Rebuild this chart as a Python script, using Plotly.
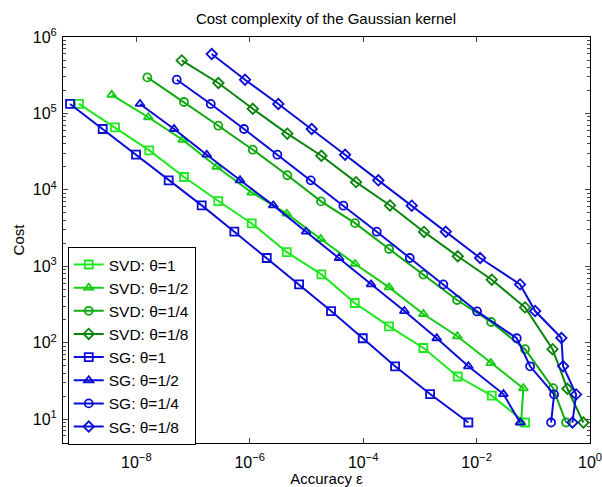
import plotly.graph_objects as go

# ---- data (accuracy epsilon, cost) ----
svd1_x = [10**-9.011, 10**-8.376, 10**-7.771, 10**-7.159, 10**-6.554, 10**-5.965, 10**-5.347, 10**-4.737, 10**-4.148, 10**-3.543, 10**-2.938, 10**-2.332, 10**-1.732, 10**-1.145]
svd1_y = [1.33e5, 6.56e4, 3.28e4, 1.47e4, 7.13e3, 3.63e3, 1.53e3, 782, 330, 163, 85, 36, 20.2, 9]

svd2_x = [10**-8.434, 10**-7.788, 10**-7.182, 10**-6.582, 10**-5.965, 10**-5.347, 10**-4.748, 10**-4.143, 10**-3.543, 10**-2.938, 10**-2.339, 10**-1.750, 10**-1.175, 10**-1.215]
svd2_y = [1.75e5, 8.9e4, 4.5e4, 2.0e4, 9.2e3, 4.87e3, 2.27e3, 1.07e3, 528, 237, 121, 54, 25.2, 9]

svd4_x = [10**-7.806, 10**-7.159, 10**-6.554, 10**-5.947, 10**-5.337, 10**-4.743, 10**-4.143, 10**-3.543, 10**-2.938, 10**-2.344, 10**-1.744, 10**-1.145, 10**-0.651, 10**-0.422]
svd4_y = [2.96e5, 1.41e5, 6.9e4, 3.35e4, 1.55e4, 7.05e3, 3.66e3, 1.68e3, 778, 361, 186, 82, 25.3, 9]

svd8_x = [10**-7.199, 10**-6.554, 10**-5.947, 10**-5.337, 10**-4.737, 10**-4.125, 10**-3.526, 10**-2.926, 10**-2.332, 10**-1.732, 10**-1.145, 10**-0.660, 10**-0.399, 10**-0.116]
svd8_y = [4.94e5, 2.5e5, 1.15e5, 5.43e4, 2.79e4, 1.26e4, 6.24e3, 2.81e3, 1.35e3, 666, 289, 82, 24.9, 9]

sg1_x = [10**-9.169, 10**-8.593, 10**-8.005, 10**-7.429, 10**-6.847, 10**-6.272, 10**-5.700, 10**-5.130, 10**-4.566, 10**-4.007, 10**-3.437, 10**-2.820, 10**-2.145]
sg1_y = [1.33e5, 6.25e4, 2.88e4, 1.33e4, 6.25e3, 2.83e3, 1.28e3, 578, 259, 114, 49, 21.2, 9]

sg2_x = [10**-7.935, 10**-7.335, 10**-6.758, 10**-6.171, 10**-5.584, 10**-5.007, 10**-4.425, 10**-3.861, 10**-3.273, 10**-2.702, 10**-2.145, 10**-1.527, 10**-1.233]
sg2_y = [1.33e5, 6.25e4, 2.88e4, 1.33e4, 6.25e3, 2.83e3, 1.28e3, 578, 259, 114, 49, 21.2, 9]

sg4_x = [10**-7.287, 10**-6.688, 10**-6.101, 10**-5.513, 10**-4.924, 10**-4.349, 10**-3.760, 10**-3.178, 10**-2.586, 10**-1.991, 10**-1.291, 10**-1.056, 10**-0.633, 10**-0.686]
sg4_y = [2.76e5, 1.33e5, 6.25e4, 2.88e4, 1.33e4, 6.2e3, 2.83e3, 1.28e3, 578, 256, 114, 49, 21, 9]

sg8_x = [10**-6.670, 10**-6.083, 10**-5.496, 10**-4.907, 10**-4.319, 10**-3.732, 10**-3.143, 10**-2.543, 10**-1.938, 10**-1.233, 10**-0.968, 10**-0.504, 10**-0.474, 10**-0.245, 10**-0.310]
sg8_y = [5.98e5, 2.76e5, 1.33e5, 6.25e4, 2.88e4, 1.33e4, 6.2e3, 2.83e3, 1.28e3, 578, 259, 115, 49, 21, 9]

names = ["SVD: θ=1", "SVD: θ=1/2", "SVD: θ=1/4", "SVD: θ=1/8",
         "SG: θ=1", "SG: θ=1/2", "SG: θ=1/4", "SG: θ=1/8"]

x_tickvals = [1e-8, 1e-6, 1e-4, 1e-2, 1]
x_ticktext = ["10<sup>−8</sup>", "10<sup>−6</sup>", "10<sup>−4</sup>", "10<sup>−2</sup>", "10<sup>0</sup>"]
y_tickvals = [1e1, 1e2, 1e3, 1e4, 1e5, 1e6]
y_ticktext = ["10<sup>1</sup>", "10<sup>2</sup>", "10<sup>3</sup>", "10<sup>4</sup>", "10<sup>5</sup>", "10<sup>6</sup>"]

# ---- styles ----
series = [
    (svd1_x, svd1_y, "#1ee81e", "square-open"),
    (svd2_x, svd2_y, "#14cc14", "triangle-up-open"),
    (svd4_x, svd4_y, "#0fa80f", "circle-open"),
    (svd8_x, svd8_y, "#0a840a", "diamond-open"),
    (sg1_x, sg1_y, "#0c0cd8", "square-open"),
    (sg2_x, sg2_y, "#0c0cd8", "triangle-up-open"),
    (sg4_x, sg4_y, "#0c0cd8", "circle-open"),
    (sg8_x, sg8_y, "#0c0cd8", "diamond-open"),
]

fig = go.Figure()
for (xs, ys, col, sym), nm in zip(series, names):
    fig.add_trace(go.Scatter(
        x=xs, y=ys, name=nm, mode="lines+markers",
        line=dict(color=col, width=2),
        marker=dict(symbol=sym, size=8, color=col, line=dict(width=1.8, color=col)),
    ))

font_family = "Liberation Sans, Arial, Helvetica, sans-serif"
minor_y = [k * 10**d for d in range(0, 6) for k in range(2, 10)]

fig.update_layout(
    width=602, height=487,
    margin=dict(l=63, r=12, t=37, b=44),
    paper_bgcolor="white", plot_bgcolor="white",
    font=dict(family=font_family, size=14, color="black"),
    title=dict(text="Cost complexity of the Gaussian kernel", x=0.5415, xanchor="center",
               y=0.962, yanchor="middle", font=dict(size=15)),
    showlegend=True,
    legend=dict(x=0.009, y=0.483, xanchor="left", yanchor="top",
                bordercolor="black", borderwidth=1, bgcolor="white",
                font=dict(size=15.5), tracegroupgap=0, itemwidth=30),
    xaxis=dict(type="log", range=[-9.293, 0], tickvals=x_tickvals, ticktext=x_ticktext,
               ticks="inside", ticklen=5, showline=True, linecolor="black", linewidth=1,
               mirror="allticks", showgrid=False, zeroline=False, automargin=False,
               ticklabeloverflow="allow",
               tickfont=dict(size=16), ticklabelstandoff=5,
               title=dict(text="Accuracy ε", standoff=4, font=dict(size=15))),
    yaxis=dict(type="log", range=[0.686, 6], tickvals=y_tickvals, ticktext=y_ticktext,
               ticks="inside", ticklen=5, showline=True, linecolor="black", linewidth=1,
               mirror="allticks", showgrid=False, zeroline=False, automargin=False,
               ticklabeloverflow="allow",
               tickfont=dict(size=16), ticklabelstandoff=2,
               minor=dict(tickvals=minor_y, ticks="inside", ticklen=3, showgrid=False),
               title=dict(text="Cost", standoff=4, font=dict(size=15))),
)

fig.write_html("out.html")
